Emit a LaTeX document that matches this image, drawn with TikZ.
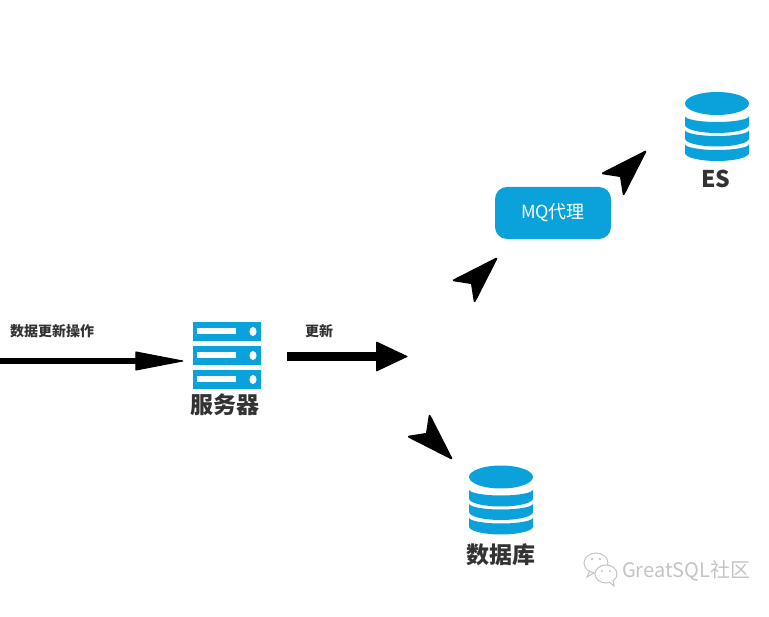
\documentclass[tikz,border=0pt]{standalone}
\usepackage{fontspec}
\setmainfont{Noto Sans CJK SC}
\usetikzlibrary{arrows.meta,calc,shapes.geometric}
\definecolor{flowblue}{HTML}{0BA2DC}
\definecolor{flowtext}{HTML}{333333}
\definecolor{flowmark}{HTML}{C4C4C4}
\tikzset{
  flow box/.style={
    rectangle, rounded corners=12pt,
    fill=flowblue, text=white,
    minimum width=116pt, minimum height=52pt,
    font=\fontsize{18}{21}\selectfont, align=center
  },
  flow title/.style={
    text=flowtext, font=\fontsize{23}{27}\selectfont\bfseries,
    align=center, inner sep=0pt
  },
  flow label/.style={
    text=flowtext, font=\fontsize{14}{17}\selectfont\bfseries,
    align=center, inner sep=0pt
  },
  flow arrow/.style={
    draw=black, line width=6pt,
    -{Triangle[length=50pt,width=19pt,line width=1pt,round]}
  },
  flow thick arrow/.style={
    draw=black, line width=9.5pt,
    -{Triangle[length=32pt,width=30pt,line width=1pt,round]}
  },
  flow stub/.style={
    draw=black, line width=2pt,
    -{Stealth[length=51pt,width=33pt,inset=12pt,round]}
  },
  server bar/.pic={
    \fill[flowblue] (-34,-9.5) rectangle (34,9.5);
    \fill[white] (-29.5,-3) rectangle (9.5,3);
    \fill[white] (26.5,0) ellipse[x radius=3.5,y radius=4.5];
  },
  db icon/.pic={
    \fill[flowblue] (0,-23) ellipse[x radius=32,y radius=11.5];
    \fill[flowblue] (-32,-10.5) arc[start angle=180,end angle=0,x radius=32,y radius=6]
      -- (32,-1.5) arc[start angle=0,end angle=180,x radius=32,y radius=8] -- cycle;
    \fill[flowblue] (-32,3.5) arc[start angle=180,end angle=0,x radius=32,y radius=6]
      -- (32,12) arc[start angle=0,end angle=180,x radius=32,y radius=8] -- cycle;
    \fill[flowblue] (-32,17.5) arc[start angle=180,end angle=0,x radius=32,y radius=6]
      -- (32,26.5) arc[start angle=0,end angle=180,x radius=32,y radius=8] -- cycle;
  }
}

\begin{document}
\begin{tikzpicture}[x=1pt,y=-1pt]
  \useasboundingbox (0,0) rectangle (769,617);

  \node[minimum width=68pt,minimum height=67pt,inner sep=0pt] (server) at (226.5,356.5) {};
  \pic at (226.5,331.5) {server bar};
  \pic at (226.5,355.5) {server bar};
  \pic at (226.5,379.5) {server bar};
  \pic at (717,126.5) {db icon};
  \pic at (501,500) {db icon};

  \node[flow title] (servername) at (225,405) {服务器};
  \node[flow title] (dbname) at (501,555) {数据库};
  \node[flow title] (esname) at (716,179) {ES};
  \node[flow box] (mq) at (553,213) {MQ代理};
  \node[flow label] (oplabel) at (52,331) {数据更新操作};
  \node[flow label] (uplabel) at (319,331) {更新};

  \coordinate (opstart) at (0,361);
  \coordinate (fork) at (407.5,356.5);
  \coordinate (mqback) at (473,282);
  \coordinate (mqtip) at (497,258);
  \coordinate (esback) at (622,175);
  \coordinate (estip) at (646,151);
  \coordinate (dbback) at (428,435);
  \coordinate (dbtip) at (452,459);

  \draw[flow arrow,shorten >=9pt] (opstart) -- (opstart -| server.west);
  \draw[flow thick arrow,shorten <=26.5pt] (server.east) -- (fork);
  \draw[flow stub] (mqback) -- (mqtip);
  \draw[flow stub] (esback) -- (estip);
  \draw[flow stub] (dbback) -- (dbtip);

  % watermark
  \draw[flowmark,line width=1pt] (596,563) ellipse[x radius=12,y radius=10];
  \draw[flowmark,line width=1pt] (590,571) -- (587,577) -- (594,573);
  \fill[flowmark] (592,559) circle[radius=1.3] (600,559) circle[radius=1.3];
  \draw[flowmark,line width=1pt,fill=white] (606,574) ellipse[x radius=11,y radius=9];
  \draw[flowmark,line width=1pt,fill=white] (609,582) -- (614,586) -- (613,580);
  \fill[flowmark] (602,571) circle[radius=1.2] (610,571) circle[radius=1.2];
  \node[text=flowmark,font=\fontsize{20}{24}\selectfont,inner sep=0pt,anchor=west] (mark) at (622,571) {GreatSQL社区};
\end{tikzpicture}
\end{document}
